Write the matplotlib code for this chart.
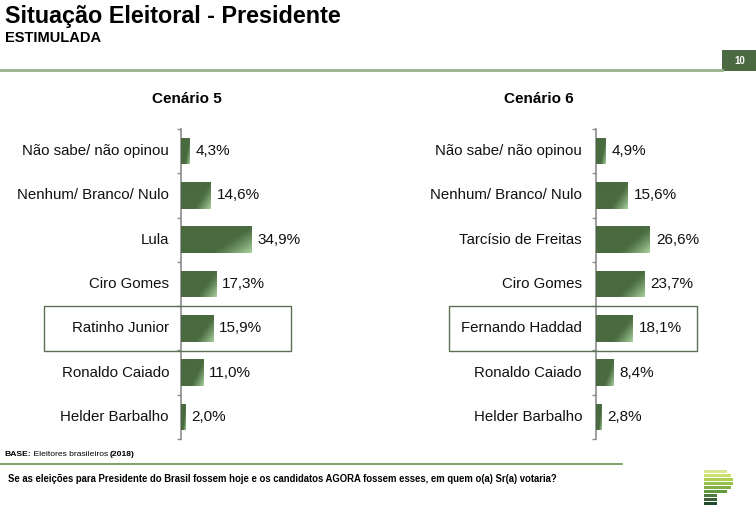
import numpy as np
import matplotlib
matplotlib.use("Agg")
import matplotlib.pyplot as plt
from matplotlib.patches import Rectangle
from matplotlib.colors import to_rgb

plt.rcParams['font.family'] = ['Liberation Sans', 'DejaVu Sans']

# -----------------------------
# DATA
# -----------------------------
cat5 = ["Não sabe/ não opinou", "Nenhum/ Branco/ Nulo", "Lula", "Ciro Gomes",
        "Ratinho Junior", "Ronaldo Caiado", "Helder Barbalho"]
val5 = [4.3, 14.6, 34.9, 17.3, 15.9, 11.0, 2.0]

cat6 = ["Não sabe/ não opinou", "Nenhum/ Branco/ Nulo", "Tarcísio de Freitas", "Ciro Gomes",
        "Fernando Haddad", "Ronaldo Caiado", "Helder Barbalho"]
val6 = [4.9, 15.6, 26.6, 23.7, 18.1, 8.4, 2.8]

DARK = to_rgb("#4a6a40")
LIGHT = to_rgb("#a9d39e")
GREEN_LINE = "#9bb08a"

W, H = 756, 514
fig = plt.figure(figsize=(W / 100, H / 100), dpi=100)


def fx(px):
    return px / W


def fy(py):
    return 1 - py / H


# gradient image for the bars (light only at the lower right corner)
u = np.linspace(0, 1, 80)[None, :]
v = np.linspace(0, 1, 40)[:, None]
t = np.clip((0.7 * u + 0.4 * v - 0.70) / 0.40, 0, 1) ** 1.2
grad = np.zeros((40, 80, 3))
for k in range(3):
    grad[:, :, k] = DARK[k] + (LIGHT[k] - DARK[k]) * t


def panel(left_px, cats, vals, label_right_px):
    ax = fig.add_axes([fx(left_px), fy(439), fx(101.5), (439 - 129) / H])
    n = len(cats)
    pos = np.arange(n)
    bars = ax.barh(pos, vals, height=0.6, color=DARK, edgecolor="none")
    for b, val, i in zip(bars, vals, pos):
        im = ax.imshow(grad, extent=(0, val, i + 0.3, i - 0.3), aspect="auto",
                       origin="upper", zorder=3)
        im.set_clip_path(b)
        ax.text(val + 2.9, i, f"{val:.1f}%".replace(".", ","), va="center",
                ha="left", fontsize=11, color="#111111")
    ax.set_xlim(0, 50)
    ax.set_ylim(n - 0.5, -0.5)
    ax.set_yticks(np.arange(n + 1) - 0.5)
    ax.set_yticklabels([])
    ax.set_xticks([])
    ax.tick_params(axis="y", length=3, width=1, color="#8c8c8c", direction="out")
    for s in ["top", "right", "bottom"]:
        ax.spines[s].set_visible(False)
    ax.spines["left"].set_color("#8c8c8c")
    ax.spines["left"].set_linewidth(1.2)
    ax.patch.set_alpha(0)
    for i, c in enumerate(cats):
        fig.text(fx(label_right_px), fy(129 + 44.3 * (i + 0.5)), c, ha="right",
                 va="center", fontsize=10.8, color="#111111")
    return ax


panel(181, cat5, val5, 169)
panel(596, cat6, val6, 582)

fig.text(fx(187), fy(99), "Cenário 5", ha="center", va="center", fontsize=11,
         fontweight="bold")
fig.text(fx(539), fy(99), "Cenário 6", ha="center", va="center", fontsize=11,
         fontweight="bold")

# highlight boxes
for x0, x1 in [(44, 291), (449, 697)]:
    fig.patches.append(Rectangle((fx(x0), fy(351)), fx(x1 - x0), (351 - 306) / H,
                                 transform=fig.transFigure, fill=False,
                                 edgecolor="#5d6f52", linewidth=1.0))

# header
fig.text(fx(5), fy(16), "Situação Eleitoral - Presidente", ha="left", va="center",
         fontsize=16.8, fontweight="bold")
fig.text(fx(5), fy(38), "ESTIMULADA", ha="left", va="center", fontsize=10.5,
         fontweight="bold")
fig.lines.append(plt.Line2D([0, fx(722)], [fy(70), fy(70)], transform=fig.transFigure,
                            color=GREEN_LINE, linewidth=2))
fig.patches.append(Rectangle((fx(722), fy(71)), fx(34), 21 / H, transform=fig.transFigure,
                             color="#4b6a41", linewidth=0))
fig.text(fx(740), fy(61), "10", ha="center", va="center", fontsize=7,
         fontweight="bold", color="white")

# footer
renderer = fig.canvas.get_renderer()
xpos = fx(4)
for txt, wt in [("BASE:", "bold"), (" Eleitores brasileiros ", "normal"), ("(2018)", "bold")]:
    tt = fig.text(xpos, fy(455), txt, ha="left", va="center", fontsize=6.1, fontweight=wt)
    bb = tt.get_window_extent(renderer)
    xpos += bb.width / W
fig.lines.append(plt.Line2D([0, fx(622)], [fy(464), fy(464)], transform=fig.transFigure,
                            color="#6e8f52", linewidth=1.2))
fig.text(fx(8), fy(479), "Se as eleições para Presidente do Brasil fossem hoje e os "
         "candidatos AGORA fossem esses, em quem o(a) Sr(a) votaria?",
         ha="left", va="center", fontsize=6.85, fontweight="bold")

# logo
logo_w = [23, 27, 29, 29, 27, 23, 13, 13, 13]
logo_c = ["#dbe68f", "#cadf6e", "#afd150", "#98c34b", "#80b046", "#62993f",
          "#4d7a3e", "#3a5f35", "#1f4a2b"]
for k, (lw, lc) in enumerate(zip(logo_w, logo_c)):
    y0 = 470 + k * 4.0
    fig.patches.append(Rectangle((fx(704), fy(y0 + 3.4)), fx(lw), 3.4 / H,
                                 transform=fig.transFigure, color=lc, linewidth=0))

fig.savefig("out.png", dpi=100)
